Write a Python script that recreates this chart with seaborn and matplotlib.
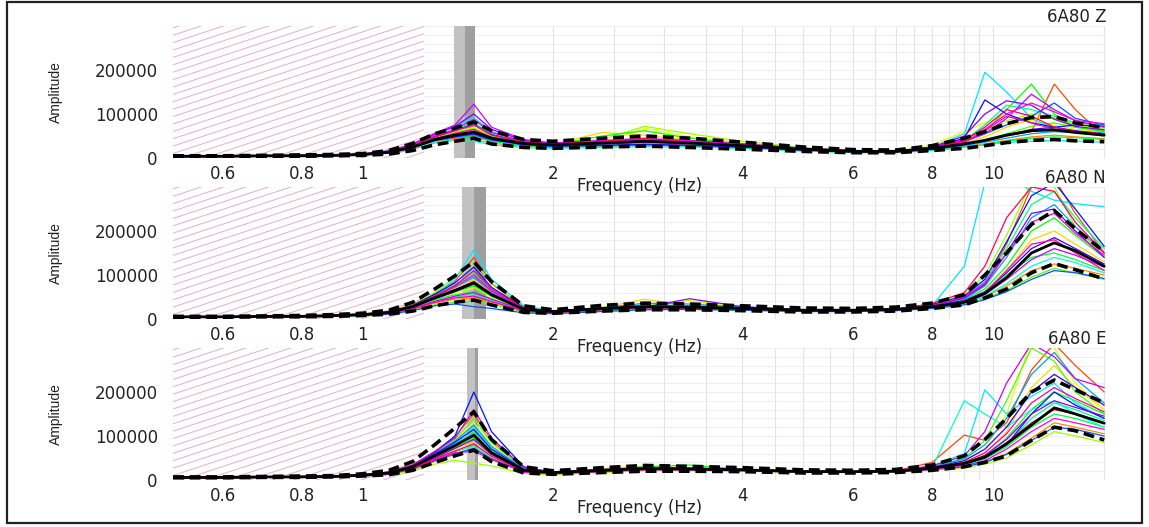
import numpy as np
import pandas as pd
import matplotlib
matplotlib.use("Agg")
import matplotlib.pyplot as plt
import seaborn as sns
from matplotlib.collections import LineCollection
from matplotlib.patches import Rectangle
from matplotlib.ticker import NullFormatter
from matplotlib import font_manager

# ---------------- data (amplitudes in thousands) ----------------
FREQ = [0.5, 0.6, 0.7, 0.8, 0.9, 1.0, 1.1, 1.2, 1.3, 1.4, 1.5, 1.6, 1.8,
        2.0, 2.4, 2.8, 3.3, 4.0, 5.0, 6.0, 7.0,
        8.0, 9.0, 9.7, 10.5, 11.5, 12.5, 13.5, 15.0]
AMP_UNIT = 1000

PANEL_NAMES = ["6A80 Z", "6A80 N", "6A80 E"]

Z_WINDOWS = [
    [3,3,4,4,5,7,12,22,38,45,50,40,30,28,30,33,30,25,18,14,14,20,30,38,50,60,168,110,50],
    [3,3,4,4,5,7,11,20,34,40,42,34,26,24,26,30,28,24,17,13,13,18,26,32,40,48,52,48,44],
    [4,4,5,5,6,8,13,26,44,54,62,46,34,31,58,52,40,30,21,15,15,22,34,48,70,88,92,80,66],
    [4,5,5,6,6,8,14,27,46,58,70,50,35,30,33,68,48,34,22,16,15,30,60,80,95,85,75,65,60],
    [4,4,5,5,6,8,14,27,46,58,68,50,36,33,42,72,55,38,24,17,16,25,42,60,85,100,90,75,68],
    [4,4,5,5,6,8,13,25,42,50,58,44,32,28,30,34,32,27,19,14,14,20,30,42,55,72,80,70,62],
    [4,4,4,5,6,8,13,26,44,55,65,48,34,30,50,62,45,32,22,16,15,22,35,60,110,168,100,70,60],
    [3,4,4,5,5,7,12,23,40,48,48,38,28,25,27,28,27,22,16,13,13,18,25,30,38,45,48,46,42],
    [5,5,6,6,7,9,15,30,50,64,85,58,38,32,36,40,36,30,22,16,15,24,40,75,120,110,95,80,75],
    [3,3,4,4,5,6,11,21,36,42,38,30,24,22,24,26,25,22,16,12,12,17,24,30,35,38,40,38,36],
    [5,5,5,6,7,9,15,30,52,70,92,60,38,30,34,40,38,30,21,16,15,25,55,195,150,90,65,60,58],
    [3,4,4,5,6,7,12,24,40,48,52,40,30,26,28,30,28,24,18,14,14,19,28,36,45,55,60,58,50],
    [4,4,5,5,6,8,14,28,48,62,78,54,36,30,34,38,35,30,21,15,15,23,38,55,75,95,125,90,75],
    [4,4,5,5,6,8,13,24,40,50,55,42,32,29,32,36,33,28,20,15,15,24,45,132,100,80,70,75,72],
    [3,3,4,4,5,7,12,23,40,48,55,42,30,27,29,31,29,25,18,14,14,20,30,40,52,65,70,62,55],
    [4,4,5,6,7,9,16,31,54,72,100,65,40,33,37,42,38,31,22,16,15,25,50,100,130,120,88,72,64],
    [5,5,5,6,7,9,16,32,56,75,122,70,42,34,40,44,40,32,22,17,15,22,38,55,90,145,110,85,70],
    [5,5,5,6,7,9,15,29,50,65,88,58,37,31,36,42,38,31,22,16,15,24,42,65,100,125,105,85,78],
    [4,4,5,5,6,8,13,26,44,56,65,47,34,30,33,37,34,28,20,15,14,21,36,62,95,80,65,60,55],
    [4,4,5,5,6,8,14,28,48,62,75,52,36,32,38,45,36,28,20,15,14,22,40,70,110,95,70,60,55],
]
Z_MEAN  = [4,4,5,5,6,8,13,25,42,52,59,45,33,30,34,38,34,28,20,15,15,22,32,40,52,62,64,58,52]
Z_UPPER = [5,5,6,7,8,10,17,33,55,68,82,62,42,38,45,50,45,36,25,19,18,28,45,60,78,92,94,80,69]
Z_LOWER = [3,3,4,4,5,6,9,17,30,38,45,32,24,22,25,27,24,20,15,12,12,17,22,28,35,40,42,39,37]
Z_BAND = [1.393, 1.45, 1.506]

N_WINDOWS = [
    [5,5,6,7,8,11,17,32,58,85,140,80,28,17,22,26,26,24,20,19,21,30,45,80,170,300,320,240,150],
    [4,4,5,5,6,8,12,22,36,45,48,38,18,14,20,24,24,22,18,18,20,26,36,50,75,110,125,115,100],
    [5,5,6,6,8,10,15,28,50,70,90,60,24,18,26,45,30,26,21,20,22,30,42,60,110,180,200,170,130],
    [4,5,5,6,7,9,14,25,42,58,72,50,20,16,24,28,42,25,20,20,22,28,38,58,95,150,175,155,120],
    [5,5,6,7,9,11,17,33,60,95,130,82,28,18,26,30,28,25,20,20,23,34,55,100,190,310,300,210,140],
    [4,4,5,5,6,8,12,20,32,38,40,34,16,13,18,22,22,20,17,17,19,25,34,46,65,95,115,105,90],
    [5,5,6,6,8,10,15,27,46,62,75,52,22,16,26,32,30,26,21,21,22,30,44,68,120,200,230,190,140],
    [4,4,5,6,7,9,14,26,44,55,62,46,20,15,22,26,26,24,20,19,21,28,40,60,100,140,150,135,110],
    [5,5,6,7,8,10,16,30,54,78,105,66,25,17,24,28,27,25,20,20,22,32,50,85,160,260,290,230,160],
    [4,4,5,5,7,9,13,24,40,50,55,42,19,15,21,25,25,23,19,19,21,27,36,52,80,120,140,128,105],
    [5,5,6,6,8,10,16,30,55,90,157,90,30,18,24,28,27,24,20,20,22,30,120,310,330,290,270,262,255],
    [5,5,6,6,8,10,15,29,52,72,95,62,24,17,25,36,34,27,21,20,22,31,46,75,140,230,260,210,150],
    [4,4,5,5,6,8,11,19,30,34,28,24,14,12,17,21,22,20,17,17,19,24,32,44,62,90,110,105,92],
    [5,5,6,7,8,10,16,31,56,82,118,72,26,17,24,28,28,25,20,20,22,33,52,90,175,280,310,250,165],
    [4,5,5,6,7,9,14,27,46,62,80,55,22,16,23,27,27,24,20,20,22,29,42,62,105,160,185,160,125],
    [5,5,6,6,8,10,15,28,48,66,85,58,23,16,23,27,46,28,21,20,22,30,48,78,150,240,250,200,140],
    [4,4,5,6,7,9,13,24,40,52,60,45,20,15,22,26,26,24,19,19,21,27,38,56,90,135,160,145,118],
    [5,5,6,6,8,10,15,29,50,74,100,64,24,17,25,29,28,25,20,20,22,31,50,82,150,220,240,195,145],
    [4,4,5,5,7,9,13,23,38,48,52,40,18,14,21,25,25,23,19,19,21,28,40,60,110,170,180,150,110],
    [5,5,6,7,8,10,16,30,52,76,110,68,25,17,24,28,27,25,20,20,22,35,60,120,230,300,290,220,150],
]
N_MEAN  = [5,5,6,6,8,10,15,28,48,65,82,55,22,17,24,28,27,24,20,20,22,28,38,58,94,150,173,155,120]
N_UPPER = [6,6,7,8,10,13,20,38,68,98,130,85,30,21,31,36,34,30,25,24,27,36,55,100,150,215,246,205,153]
N_LOWER = [4,4,5,5,6,8,11,18,30,38,43,32,15,13,18,21,21,19,16,16,18,24,32,48,68,105,126,112,91]
N_BAND = [1.436, 1.50, 1.567]

E_WINDOWS = [
    [6,6,7,8,9,12,18,35,65,98,150,90,28,18,23,27,26,24,20,19,21,40,102,90,130,250,310,260,200],
    [5,5,6,6,7,9,13,24,42,58,70,46,18,14,19,23,23,21,18,18,19,24,32,42,60,95,130,120,105],
    [5,5,6,7,8,10,15,28,50,70,88,56,20,15,26,32,28,23,19,19,20,26,40,60,110,210,260,210,160],
    [6,6,7,7,8,11,17,32,60,90,130,78,26,17,22,26,25,23,19,19,20,28,42,70,150,320,300,220,160],
    [5,5,6,6,7,9,12,21,36,45,38,32,15,12,17,21,21,20,17,17,18,22,28,36,50,80,110,100,85],
    [6,6,7,8,9,12,18,34,62,92,140,85,27,17,22,26,25,23,19,19,21,30,50,90,180,300,270,200,150],
    [5,6,6,7,8,10,15,29,52,74,95,60,21,16,22,30,34,24,20,19,20,27,38,55,95,160,200,180,150],
    [6,6,7,7,8,11,16,30,56,80,110,66,23,16,21,25,24,22,19,19,20,26,34,48,75,120,150,140,120],
    [5,5,6,6,7,9,14,26,46,64,78,50,19,15,20,24,24,22,18,18,19,25,34,48,80,140,175,160,135],
    [5,6,6,7,8,10,16,30,55,82,120,72,24,16,21,25,24,22,19,18,20,28,180,150,120,160,180,150,120],
    [6,6,7,7,8,11,16,31,58,84,105,64,22,17,22,27,26,23,19,19,20,32,60,205,150,190,220,175,140],
    [6,6,7,8,9,12,17,33,60,88,125,76,25,17,22,27,26,24,20,19,21,29,48,80,140,240,290,230,175],
    [5,5,6,6,7,9,13,25,44,60,72,48,19,14,20,24,24,22,18,18,19,24,30,40,58,90,120,115,100],
    [6,6,7,7,8,11,17,33,62,100,200,110,30,17,22,26,25,23,19,19,20,26,36,50,80,150,200,170,140],
    [6,6,7,7,9,11,17,31,58,86,115,70,24,17,23,28,27,24,20,19,20,28,44,70,120,200,240,210,170],
    [5,5,6,7,8,10,15,28,50,72,92,58,21,15,21,25,25,23,19,18,20,26,38,56,92,150,180,165,145],
    [6,6,7,8,9,12,18,34,64,95,160,95,28,18,24,28,27,24,20,19,21,32,55,110,220,310,280,230,210],
    [5,5,6,6,7,9,14,26,46,62,65,48,18,14,19,23,23,21,18,18,19,24,32,44,70,110,140,130,115],
    [6,6,7,7,8,11,16,30,56,80,100,62,22,16,21,26,25,23,19,19,20,27,40,62,105,175,210,185,155],
    [5,5,6,6,8,10,15,27,48,66,82,54,20,15,20,24,24,22,18,18,19,25,36,52,85,130,160,150,130],
]
E_MEAN  = [6,6,7,7,8,11,16,30,55,78,102,62,22,17,22,26,25,23,19,19,20,27,38,52,82,125,164,150,129]
E_UPPER = [7,7,8,9,10,14,22,42,80,118,155,92,30,21,28,33,31,28,23,22,24,34,55,92,140,200,227,205,175]
E_LOWER = [5,5,6,6,7,9,12,22,40,55,68,42,16,13,17,20,20,19,16,16,17,22,30,40,55,90,120,112,91]
E_BAND = [1.463, 1.506, 1.522]

HATCH_RANGE = [0.5, 1.25]

X_MAJOR = [0.6, 0.8, 1, 2, 4, 6, 8, 10]
X_MAJOR_LABELS = ["0.6", "0.8", "1", "2", "4", "6", "8", "10"]
X_MINOR = [0.5, 0.55, 0.65, 0.7, 0.75, 0.85, 0.9, 0.95, 1.5, 2.5, 3, 3.5,
           4.5, 5, 5.5, 6.5, 7, 7.5, 8.5, 9, 9.5, 15]
Y_TICKS = [0, 100000, 200000]
Y_TICK_LABELS = ["0", "100000", "200000"]

# ---------------- figure ----------------
sns.set_style("white")
plt.rcParams["font.family"] = ["DejaVu Sans"]

installed = {f.name for f in font_manager.fontManager.ttflist}
label_family = ["Liberation Sans Narrow"] if "Liberation Sans Narrow" in installed else ["Liberation Sans"]

fig = plt.figure(figsize=(11.49, 5.27), dpi=100)
left, width, height = 0.1506, 0.8120, 0.2505
bottoms = [0.7002, 0.3947, 0.0892]

panels = [
    (Z_WINDOWS, Z_MEAN, Z_UPPER, Z_LOWER, Z_BAND),
    (N_WINDOWS, N_MEAN, N_UPPER, N_LOWER, N_BAND),
    (E_WINDOWS, E_MEAN, E_UPPER, E_LOWER, E_BAND),
]

LIGHT_GRAY = "#c2c2c2"
DARK_GRAY = "#9f9f9f"
HATCH_COLOR = "#e4b0bd"
TEXT_COLOR = "#222222"

for i, (name, (wins, mean, upper, lower, band), b) in enumerate(zip(PANEL_NAMES, panels, bottoms)):
    ax = fig.add_axes([left, b, width, height])
    ax.set_zorder(10 - i)  # upper panels drawn last so their x-labels stay clean
    ax.patch.set_facecolor("none")
    ax.set_xscale("log")

    # long-form window data
    rows = []
    for wi, w in enumerate(wins):
        for f, a in zip(FREQ, w):
            rows.append((wi, f, a * AMP_UNIT))
    df = pd.DataFrame(rows, columns=["win", "freq", "amp"])
    pal = sns.color_palette("hsv", len(wins))
    sns.lineplot(data=df, x="freq", y="amp", hue="win", palette=pal,
                 estimator=None, legend=False, linewidth=0.9, ax=ax, zorder=2)

    freq = np.array(FREQ)
    sns.lineplot(x=freq, y=np.array(upper) * AMP_UNIT, color="black", lw=2.6,
                 linestyle=(0, (3, 1.6)), estimator=None, ax=ax, zorder=4)
    sns.lineplot(x=freq, y=np.array(lower) * AMP_UNIT, color="black", lw=2.6,
                 linestyle=(0, (3, 1.6)), estimator=None, ax=ax, zorder=4)
    sns.lineplot(x=freq, y=np.array(mean) * AMP_UNIT, color="black", lw=2.0,
                 estimator=None, ax=ax, zorder=4)

    ax.set_xlim(0.5, 15.1)
    ax.set_ylim(0, 300000)

    # f0 bands
    ax.axvspan(band[0], band[1], color=LIGHT_GRAY, lw=0, zorder=1)
    ax.axvspan(band[1], band[2], color=DARK_GRAY, lw=0, zorder=1)

    # hatched low-frequency region (white underlay hides the grid)
    rect = ax.axvspan(HATCH_RANGE[0], HATCH_RANGE[1], facecolor="white",
                      edgecolor="none", zorder=0.7)
    slope = 2.33
    segs = [[(0, c), (1, c + slope)] for c in np.arange(-0.75, 1.05, 0.056)]
    lc = LineCollection(segs, colors=HATCH_COLOR, linewidths=0.7,
                        transform=ax.transAxes, zorder=0.8)
    ax.add_collection(lc)
    lc.set_clip_path(rect)

    # ticks and grid
    ax.set_xticks(X_MAJOR)
    ax.set_xticklabels(X_MAJOR_LABELS)
    ax.set_xticks(X_MINOR, minor=True)
    ax.xaxis.set_minor_formatter(NullFormatter())
    ax.set_yticks(Y_TICKS)
    ax.set_yticklabels(Y_TICK_LABELS)
    ax.set_yticks(np.arange(0, 300001, 20000), minor=True)
    ax.yaxis.set_minor_formatter(NullFormatter())
    ax.set_axisbelow(True)
    ax.grid(True, which="both", axis="x", color="#e3e3e3", lw=0.8)
    ax.grid(True, which="both", axis="y", color="#eeeeee", lw=0.8)
    ax.tick_params(axis="x", which="major", length=4, width=0.8,
                   color="#9a9a9a", labelsize=12, pad=1, labelcolor=TEXT_COLOR)
    ax.tick_params(axis="y", which="major", length=9, width=0.8,
                   color="#b0b0b0", labelsize=12, pad=2, labelcolor=TEXT_COLOR)
    ax.tick_params(axis="x", which="minor", length=3, width=0.8, color="#9a9a9a")
    ax.tick_params(axis="y", which="minor", length=0)
    for s in ax.spines.values():
        s.set_visible(False)

    ax.set_xlabel("Frequency (Hz)", fontsize=12, labelpad=-4, color=TEXT_COLOR)
    ax.set_ylabel("Amplitude", fontsize=10, family=label_family, color=TEXT_COLOR)
    ax.yaxis.set_label_coords(-0.118, 0.5)
    ax.set_title(name, loc="right", fontsize=12, pad=3, color=TEXT_COLOR)

# outer frame
fig.patches.append(Rectangle((0.0065, 0.008), 0.987, 0.988, transform=fig.transFigure,
                             fill=False, edgecolor="#222222", lw=1.6))

fig.savefig("out.png", dpi=100)
